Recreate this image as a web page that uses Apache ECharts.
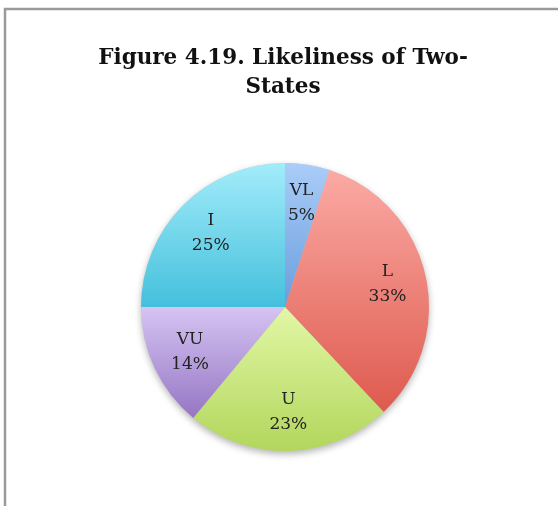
<!DOCTYPE html>
<html>
<head>
<meta charset="utf-8">
<script src="https://cdn.jsdelivr.net/npm/echarts@6/dist/echarts.min.js"></script>
<style>
  html, body { margin: 0; padding: 0; background: #fff; }
  #chart { width: 558px; height: 506px; }
</style>
</head>
<body>
<div id="chart"></div>
<script>
// 数据
const categories = ['VL', 'L', 'U', 'VU', 'I']
const values = [5, 33, 23, 14, 25]
const topColors = ['#aacdf8', '#fbaaa4', '#e2f7a6', '#d6c4f2', '#a3ecfa']
const bottomColors = ['#6a9ddd', '#de5a4e', '#b2d65c', '#9576c4', '#44c0dc']

const myChart = echarts.init(document.getElementById('chart'))

const center = [285, 307]
const fontFamily = '"DejaVu Serif", serif'

const pieData = categories.map((name, i) => ({
  name: name,
  value: values[i],
  itemStyle: {
    color: new echarts.graphic.LinearGradient(0, 0, 0, 1, [
      { offset: 0, color: topColors[i] },
      { offset: 1, color: bottomColors[i] }
    ])
  }
}))

const plainData = categories.map((name, i) => ({ name: name, value: values[i] }))

const option = {
  backgroundColor: '#fff',
  animation: false,
  title: {
    text: 'Figure 4.19. Likeliness of Two-\nStates',
    left: 278,
    textAlign: 'center',
    top: 39,
    textStyle: {
      fontFamily: fontFamily,
      fontWeight: 'bold',
      fontSize: 21.5,
      lineHeight: 29,
      color: '#111'
    }
  },
  graphic: [{
    type: 'rect',
    shape: { x: 5, y: 9, width: 600, height: 600 },
    style: { fill: 'none', stroke: '#9a9a9a', lineWidth: 2.5 },
    silent: true
  }],
  series: [
    // 阴影层
    {
      type: 'pie',
      center: center,
      radius: 144,
      startAngle: 90,
      silent: true,
      z: 1,
      label: { show: false },
      labelLine: { show: false },
      itemStyle: {
        color: '#ccc',
        borderWidth: 0,
        shadowBlur: 7,
        shadowColor: 'rgba(0,0,0,0.3)',
        shadowOffsetY: 3
      },
      emphasis: { disabled: true },
      data: plainData
    },
    {
      type: 'pie',
      center: center,
      radius: 144,
      startAngle: 90,
      clockwise: true,
      z: 2,
      label: { show: false },
      labelLine: { show: false },
      itemStyle: { borderWidth: 0 },
      emphasis: { disabled: true },
      data: pieData
    },
    // 标签层
    {
      type: 'pie',
      center: center,
      radius: [60, 144],
      startAngle: 90,
      clockwise: true,
      silent: true,
      z: 3,
      itemStyle: { color: 'rgba(0,0,0,0)', borderWidth: 0 },
      label: {
        show: true,
        position: 'inside',
        formatter: '{b}\n{d}%',
        fontFamily: fontFamily,
        fontSize: 17,
        lineHeight: 25,
        color: '#222'
      },
      labelLine: { show: false },
      emphasis: { disabled: true },
      data: plainData
    }
  ]
}

myChart.setOption(option)
</script>
</body>
</html>
